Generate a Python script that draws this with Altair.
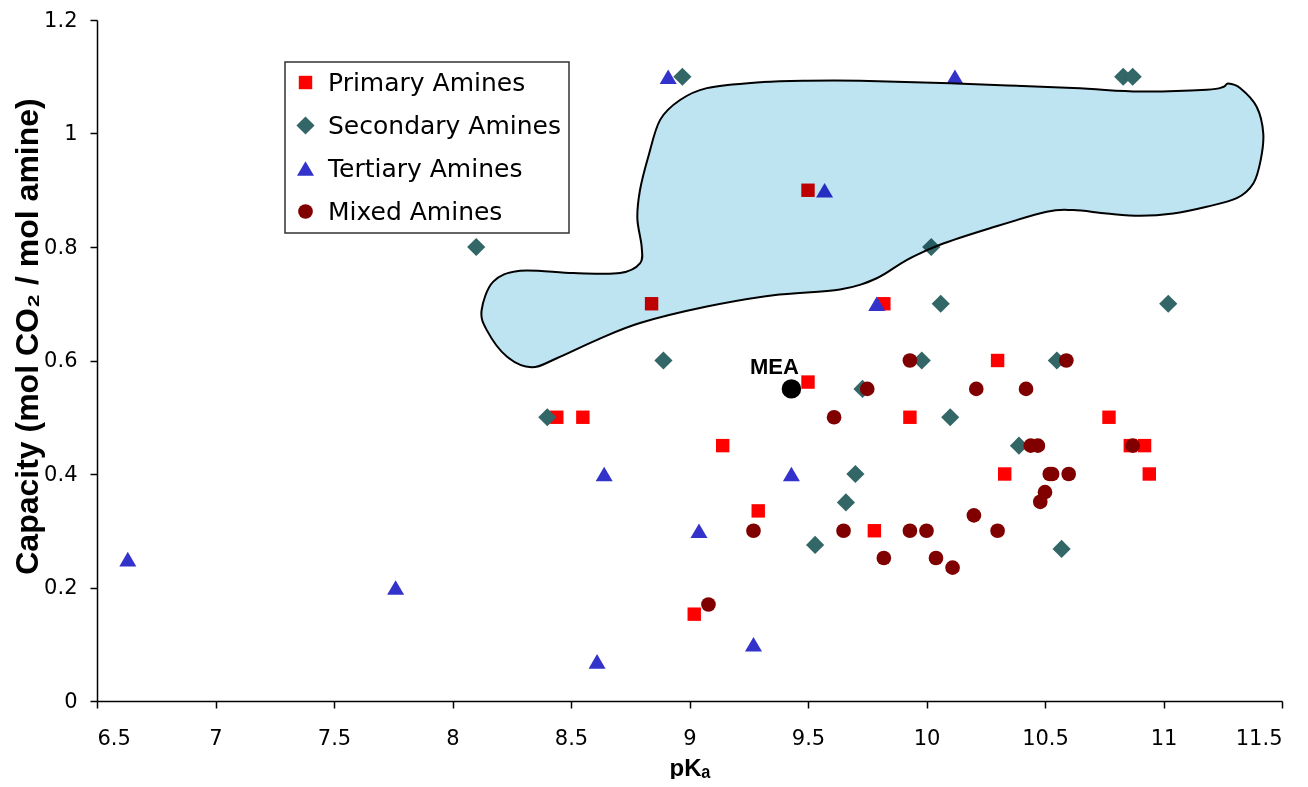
import altair as alt
import pandas as pd

# ---- data ----
types = ["Primary Amines", "Secondary Amines", "Tertiary Amines", "Mixed Amines"]

primary_x = [8.84, 9.50, 9.82, 9.50, 8.44, 8.55, 9.14, 9.29, 9.02, 9.78, 9.93, 10.30, 10.33, 10.77, 10.86, 10.92, 10.94]
primary_y = [0.70, 0.90, 0.70, 0.562, 0.50, 0.50, 0.45, 0.335, 0.153, 0.30, 0.50, 0.60, 0.40, 0.50, 0.45, 0.45, 0.40]

secondary_x = [8.10, 8.97, 10.83, 10.87, 10.02, 10.06, 11.02, 8.89, 8.40, 9.73, 9.98, 10.55, 10.10, 10.39, 9.70, 9.66, 9.53, 10.57]
secondary_y = [0.80, 1.10, 1.10, 1.10, 0.80, 0.70, 0.70, 0.60, 0.50, 0.55, 0.60, 0.60, 0.50, 0.45, 0.40, 0.35, 0.275, 0.268]

tertiary_x = [6.63, 7.76, 8.91, 10.12, 9.57, 9.79, 8.64, 9.43, 9.04, 9.27, 8.61]
tertiary_y = [0.25, 0.20, 1.10, 1.10, 0.90, 0.70, 0.40, 0.40, 0.30, 0.10, 0.07]

mixed_x = [9.93, 10.59, 9.75, 10.21, 10.42, 9.61, 10.44, 10.47, 10.87, 10.52, 10.53, 10.60,
           10.50, 10.48, 10.20, 9.27, 9.65, 9.93, 10.00, 10.30, 9.82, 10.04, 10.11, 9.08]
mixed_y = [0.60, 0.60, 0.55, 0.55, 0.55, 0.50, 0.45, 0.45, 0.45, 0.40, 0.40, 0.40,
           0.368, 0.351, 0.327, 0.30, 0.30, 0.30, 0.30, 0.30, 0.252, 0.252, 0.235, 0.17]

mea_x = [9.43]
mea_y = [0.55]
mea_label = ["MEA"]

# outline of the shaded region (pKa, capacity), traced clockwise
region_x = [8.123, 8.172, 8.285, 8.510, 8.707, 8.791, 8.798, 8.780, 8.791, 8.826, 8.876, 8.960,
            9.073, 9.284, 9.495, 9.719, 10.127, 10.618, 10.901, 11.182, 11.252, 11.273, 11.323,
            11.393, 11.421, 11.410, 11.379, 11.309, 11.182, 11.041, 10.901, 10.760, 10.619,
            10.507, 10.268, 10.057, 9.916, 9.790, 9.635, 9.354, 9.073, 8.791, 8.608,
            8.440, 8.334, 8.229, 8.144]
region_y = [0.689, 0.739, 0.758, 0.754, 0.754, 0.771, 0.801, 0.850, 0.900, 0.959, 1.024, 1.059,
            1.080, 1.090, 1.093, 1.093, 1.088, 1.080, 1.074, 1.077, 1.082, 1.088, 1.080,
            1.047, 1.000, 0.953, 0.912, 0.886, 0.871, 0.859, 0.855, 0.859, 0.865,
            0.862, 0.833, 0.804, 0.777, 0.745, 0.725, 0.715, 0.695, 0.666, 0.636,
            0.604, 0.588, 0.607, 0.654]

x_ticks = [6.5, 7, 7.5, 8, 8.5, 9, 9.5, 10, 10.5, 11, 11.5]
y_ticks = [0, 0.2, 0.4, 0.6, 0.8, 1.0, 1.2]

# ---- styling per series (not data) ----
colors = ["#FF0000", "#336666", "#3333CC", "#800000"]
shapes = ["square", "diamond", "triangle-up", "circle"]
sizes = [180, 330, 290, 215]

# ---- tables ----
pts = pd.concat([
    pd.DataFrame({"pKa": xs, "cap": ys, "type": t})
    for t, xs, ys in zip(types, [primary_x, secondary_x, tertiary_x, mixed_x],
                         [primary_y, secondary_y, tertiary_y, mixed_y])
], ignore_index=True)
mea = pd.DataFrame({"pKa": mea_x, "cap": mea_y, "label": mea_label})
region = pd.DataFrame({"pKa": region_x, "cap": region_y, "i": list(range(len(region_x)))})

xscale = alt.Scale(domain=[6.5, 11.5], nice=False, zero=False)
yscale = alt.Scale(domain=[0, 1.2], nice=False)

xaxis = alt.Axis(values=x_ticks, format="~g", title="pKₐ", titleFontSize=24,
                 titleFont="Liberation Sans", titleFontWeight="bold",
                 titleX=592.5, titleY=74, titleAlign="center", titleBaseline="alphabetic",
                 labelPadding=19, labelFontSize=21, labelFont="DejaVu Sans")
yaxis = alt.Axis(values=y_ticks, format="~g", title="Capacity (mol CO₂ / mol amine)",
                 titleFontSize=32, titleFont="Liberation Sans", titleFontWeight="bold",
                 titleAngle=-90, titleX=-70, titleY=316, titleAlign="center",
                 titleBaseline="middle", labelPadding=13, labelFontSize=21,
                 labelFont="DejaVu Sans")

points = alt.Chart(pts).mark_point(filled=True, opacity=1, strokeWidth=0).encode(
    x=alt.X("pKa:Q", scale=xscale, axis=xaxis),
    y=alt.Y("cap:Q", scale=yscale, axis=yaxis),
    color=alt.Color("type:N", scale=alt.Scale(domain=types, range=colors),
                    legend=alt.Legend(title=None, orient="none", legendX=188, legendY=42,
                                      labelLimit=400, labelFontSize=25,
                                      labelFont="DejaVu Sans")),
    shape=alt.Shape("type:N", scale=alt.Scale(domain=types, range=shapes)),
    size=alt.Size("type:N", scale=alt.Scale(type="ordinal", domain=types, range=sizes),
                  legend=None),
)

mea_pt = alt.Chart(mea).mark_point(filled=True, opacity=1, color="black", size=380,
                                    strokeWidth=0).encode(
    x=alt.X("pKa:Q", scale=xscale), y=alt.Y("cap:Q", scale=yscale))

mea_txt = alt.Chart(mea).mark_text(dx=-17, dy=-22, font="Liberation Sans", fontWeight="bold",
                                   fontSize=22, color="black", align="center",
                                   baseline="middle").encode(
    x=alt.X("pKa:Q", scale=xscale), y=alt.Y("cap:Q", scale=yscale), text="label:N")

blob = alt.Chart(region).mark_line(interpolate="cardinal-closed", fill="#BEE4F2",
                                   stroke="black", strokeWidth=2, blend="multiply").encode(
    x=alt.X("pKa:Q", scale=xscale), y=alt.Y("cap:Q", scale=yscale),
    order=alt.Order("i:Q"))

chart = alt.layer(points, mea_pt, mea_txt, blob).properties(
    width=1185, height=681,
    autosize=alt.AutoSizeParams(type="none"),
    padding={"left": 89, "top": 12, "right": 18, "bottom": 78},
).configure_view(stroke=None).configure_axis(
    grid=False, domainColor="black", domainWidth=1.5, tickColor="black", tickWidth=1.5,
    tickSize=7, labelColor="black", titleColor="black",
).configure_legend(
    strokeColor="#333333", fillColor="white", padding=8,
    labelColor="black", symbolSize=180, rowPadding=17, labelOffset=10,
    symbolStrokeWidth=0, strokeWidth=1.5,
)

chart.save("out.html", embed_options={"renderer": "svg", "actions": False})
